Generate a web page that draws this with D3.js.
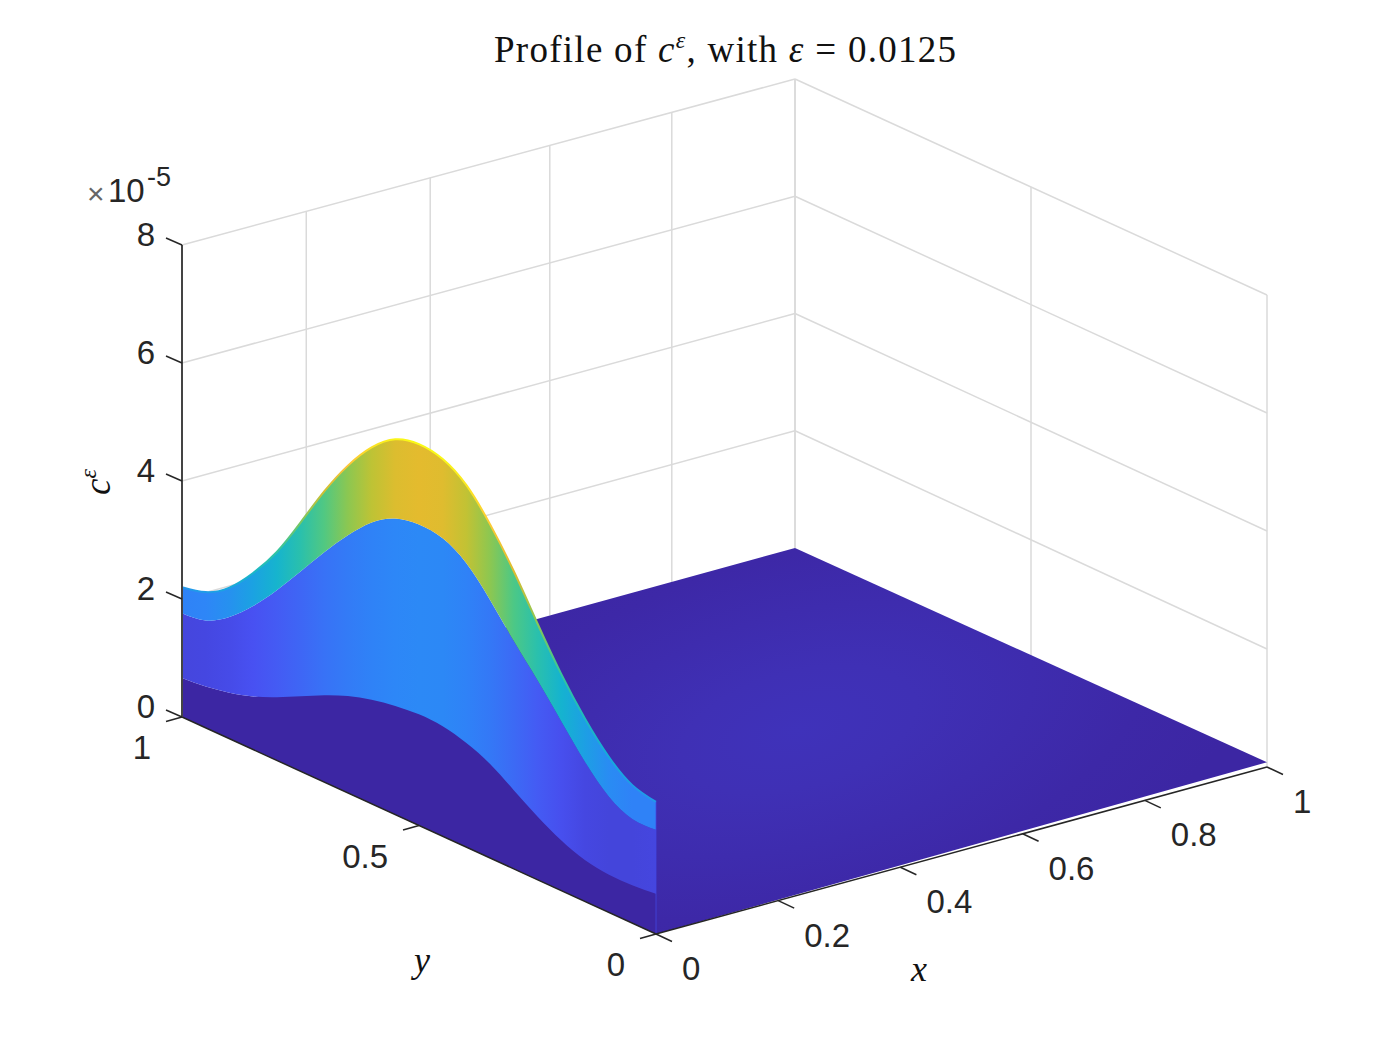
<!DOCTYPE html>
<html><head><meta charset="utf-8">
<script src="https://cdn.jsdelivr.net/npm/d3@7"></script>
<style>
html,body{margin:0;padding:0;background:#fff}
svg{display:block}
.tick{font-family:"Liberation Sans",Arial,sans-serif;font-size:33px;fill:#262626}
.math{font-family:"Liberation Serif",serif;fill:#111}
</style></head><body>
<svg id="c" width="1400" height="1050" xmlns="http://www.w3.org/2000/svg"></svg>
<script>
// ---- data (c values in units of 1e-5) ----
const titleText = "Profile of";
const xTicks = [0,0.2,0.4,0.6,0.8,1];
const yTicks = [0,0.5,1];
const zTicks = [0,2,4,6,8];
const xTickLabels = ["0","0.2","0.4","0.6","0.8","1"];
const yTickLabels = ["0","0.5","1"];
const zTickLabels = ["0","2","4","6","8"];
const yValues = [0,.05,.1,.15,.2,.25,.3,.35,.4,.45,.5,.55,.6,.65,.7,.75,.8,.85,.9,.95,1];
const layer0 = [0,0,0,0,0,0,0,0,0,0,0,0,0,0,0,0,0,0,0,0,0];
const layer1 = [.68,.64,.64,.70,.85,1.07,1.33,1.59,1.76,1.86,1.88,1.84,1.76,1.64,1.47,1.27,1.07,.90,.78,.70,.66];
const layer2 = [1.76,1.76,1.96,2.36,2.86,3.37,3.85,4.36,4.80,5.04,5.09,5.01,4.76,4.36,3.89,3.38,2.88,2.43,2.06,1.82,1.76];
const layer3 = [2.23,2.33,2.63,3.09,3.66,4.33,5.03,5.64,6.12,6.38,6.45,6.35,6.03,5.54,4.92,4.21,3.53,2.99,2.56,2.30,2.20];
const floorCorners = [[0,0,0],[1,0,0.08],[1,1,0],[0,1,0]];
const floorRadial = [0.26,0.21,0.13,0.05,0];
const colorLimit = 6.45;
const parulaKnots = [0,1/7,2/7,3/7,4/7,5/7,0.786,6/7,1];
const parulaColors = ["#3c26a3","#4852f4","#2d87f7","#11b1d6","#37c897","#abc738","#e3bb2e","#fec338","#f9fb15"];
// spacing of the x gridlines on the back wall
const backWallX = [0,0.2,0.4,0.6,0.8,1];
const backWallPos = [0,0.2027,0.4049,0.6,0.799,1];

// ---- scales ----
const svg = d3.select("#c");
const lerp = (a,b) => d3.scaleLinear().domain([0,1]).range([a,b]);
const zNorm = d3.scaleLinear().domain([0,8]).range([0,1]);
const backWarp = d3.scaleLinear().domain(backWallX).range(backWallPos);
const cornersLow  = {o:[656,934],x:[1267,767],y:[182,717],xy:[795,548]};
const cornersHigh = {o:[656,460],x:[1267,295],y:[182,245],xy:[795,79]};
function proj(x,y,z){
  const at = (c,i)=>{
    const a = lerp(c.o[i],c.x[i])(x), b = lerp(c.y[i],c.xy[i])(backWarp(x));
    return lerp(a,b)(y);
  };
  const t = zNorm(z);
  return [lerp(at(cornersLow,0),at(cornersHigh,0))(t), lerp(at(cornersLow,1),at(cornersHigh,1))(t)];
}
const colorRamp = d3.scaleLinear().domain(parulaKnots).range(parulaColors).interpolate(d3.interpolateRgb).clamp(true);
const colorOf = v => colorRamp(v/colorLimit);
const line = d3.line().x(d=>d[0]).y(d=>d[1]);

// ---- grid ----
const gridG = svg.append("g").attr("fill","none").attr("stroke","#dadada").attr("stroke-width",1.5);
const seg = (g,a,b)=> g.append("path").attr("d",line([a,b]));
zTicks.forEach(z=>{
  if(z===0) return;
  seg(gridG,proj(0,1,z),proj(1,1,z));
  seg(gridG,proj(1,1,z),proj(1,0,z));
});
xTicks.forEach(x=>{ seg(gridG,proj(x,1,0),proj(x,1,8)); });
yTicks.forEach(y=>{ seg(gridG,proj(1,y,0),proj(1,y,8)); });

// ---- floor ----
const defs = svg.append("defs");
const rg = defs.append("radialGradient").attr("id","floorGrad").attr("gradientUnits","userSpaceOnUse")
  .attr("cx",0).attr("cy",0).attr("r",1)
  .attr("gradientTransform",(()=>{const c=proj(.62,.5,0);return `translate(${c[0]},${c[1]+8}) rotate(-15) scale(480,230)`;})());
floorRadial.forEach((v,i)=> rg.append("stop").attr("offset",i/(floorRadial.length-1)).attr("stop-color",colorOf(v)));
svg.append("path").attr("d",line(floorCorners.map(c=>proj(c[0],c[1],c[2])))+"Z").attr("fill","url(#floorGrad)");

// ---- wall bands ----
const area = d3.area().x(d=>d.x).y0(d=>d.y0).y1(d=>d.y1).curve(d3.curveNatural);
const x0scr = proj(0,0,0)[0], x1scr = proj(0,1,0)[0];
function gradient(id,vals){
  const g = defs.append("linearGradient").attr("id",id).attr("gradientUnits","userSpaceOnUse")
    .attr("x1",x0scr).attr("x2",x1scr).attr("y1",0).attr("y2",0);
  vals.forEach((v,i)=> g.append("stop").attr("offset",yValues[i]).attr("stop-color",colorOf(v)));
}
const bands = [[layer0,layer1,layer0],[layer1,layer2,layer1],[layer2,layer3,layer2]];
bands.forEach((b,k)=>{
  gradient("band"+k,b[2]);
  const pts = yValues.map((y,i)=>{
    const p0 = proj(0,y,b[0][i]), p1 = proj(0,y,b[1][i]);
    return {x:p0[0],y0:p0[1],y1:p1[1]};
  });
  svg.append("path").attr("d",area(pts)).attr("fill",`url(#band${k})`);
});
// crest of the surface
gradient("crest",layer3);
svg.append("path")
  .attr("d",d3.line().curve(d3.curveNatural)(yValues.map((y,i)=>proj(0,y,layer3[i]))))
  .attr("fill","none").attr("stroke","url(#crest)").attr("stroke-width",2);
// front edge sliver
svg.append("path").attr("d",line([proj(0,0,0),proj(0,0,layer3[0])]))
  .attr("stroke","#4348e4").attr("stroke-width",1).attr("opacity",.75);

// ---- axes ----
const axG = svg.append("g").attr("fill","none").attr("stroke","#262626").attr("stroke-width",1.5);
seg(axG,proj(0,0,0),proj(1,0,0));
seg(axG,proj(0,0,0),proj(0,1,0));
seg(axG,proj(0,1,0),proj(0,1,8)).attr("stroke-width",2).attr("stroke","#444");
const tg = svg.append("g");
xTicks.forEach((x,i)=>{
  const p = proj(x,0,0);
  seg(axG,p,[p[0]+16,p[1]+7.5]);
  tg.append("text").attr("class","tick").attr("x",p[0]+26).attr("y",p[1]+46).text(xTickLabels[i]);
});
yTicks.forEach((y,i)=>{
  const p = proj(0,y,0);
  seg(axG,p,[p[0]-16,p[1]+4.5]);
  tg.append("text").attr("class","tick").attr("text-anchor","end").attr("x",p[0]-31).attr("y",p[1]+42).text(yTickLabels[i]);
});
zTicks.forEach((z,i)=>{
  const p = proj(0,1,z);
  seg(axG,p,[p[0]-16,p[1]-7]);
  tg.append("text").attr("class","tick").attr("text-anchor","end").attr("x",p[0]-27).attr("y",p[1]+1).text(zTickLabels[i]);
});
// exponent
tg.append("text").attr("class","tick").attr("x",87).attr("y",204).attr("style","font-family:'Liberation Sans';font-size:30px;fill:#666").text("×");
tg.append("text").attr("class","tick").attr("x",108).attr("y",202).text("10");
tg.append("text").attr("class","tick").attr("x",147).attr("y",186).attr("style","font-size:27px").text("-5");

// ---- title and axis labels ----
const title = svg.append("text").attr("class","math").attr("x",494).attr("y",62)
  .attr("font-size",37).attr("letter-spacing",1.27);
title.append("tspan").text(titleText+" ");
title.append("tspan").attr("font-style","italic").text("c");
title.append("tspan").attr("font-style","italic").attr("font-size",24).attr("dy",-14).text("ε");
title.append("tspan").attr("dy",14).text(", with ");
title.append("tspan").attr("font-style","italic").text("ε");
title.append("tspan").text(" = 0.0125");

svg.append("text").attr("class","math").attr("font-style","italic").attr("font-size",36)
  .attr("x",422).attr("y",972).attr("text-anchor","middle").text("y");
svg.append("text").attr("class","math").attr("font-style","italic").attr("font-size",36)
  .attr("x",919).attr("y",981).attr("text-anchor","middle").text("x");
const zl = svg.append("text").attr("class","math").attr("font-style","italic").attr("font-size",37)
  .attr("transform","translate(110,495) rotate(-90)");
zl.append("tspan").text("c");
zl.append("tspan").attr("font-size",24).attr("dy",-14).text("ε");
</script>
</body></html>
